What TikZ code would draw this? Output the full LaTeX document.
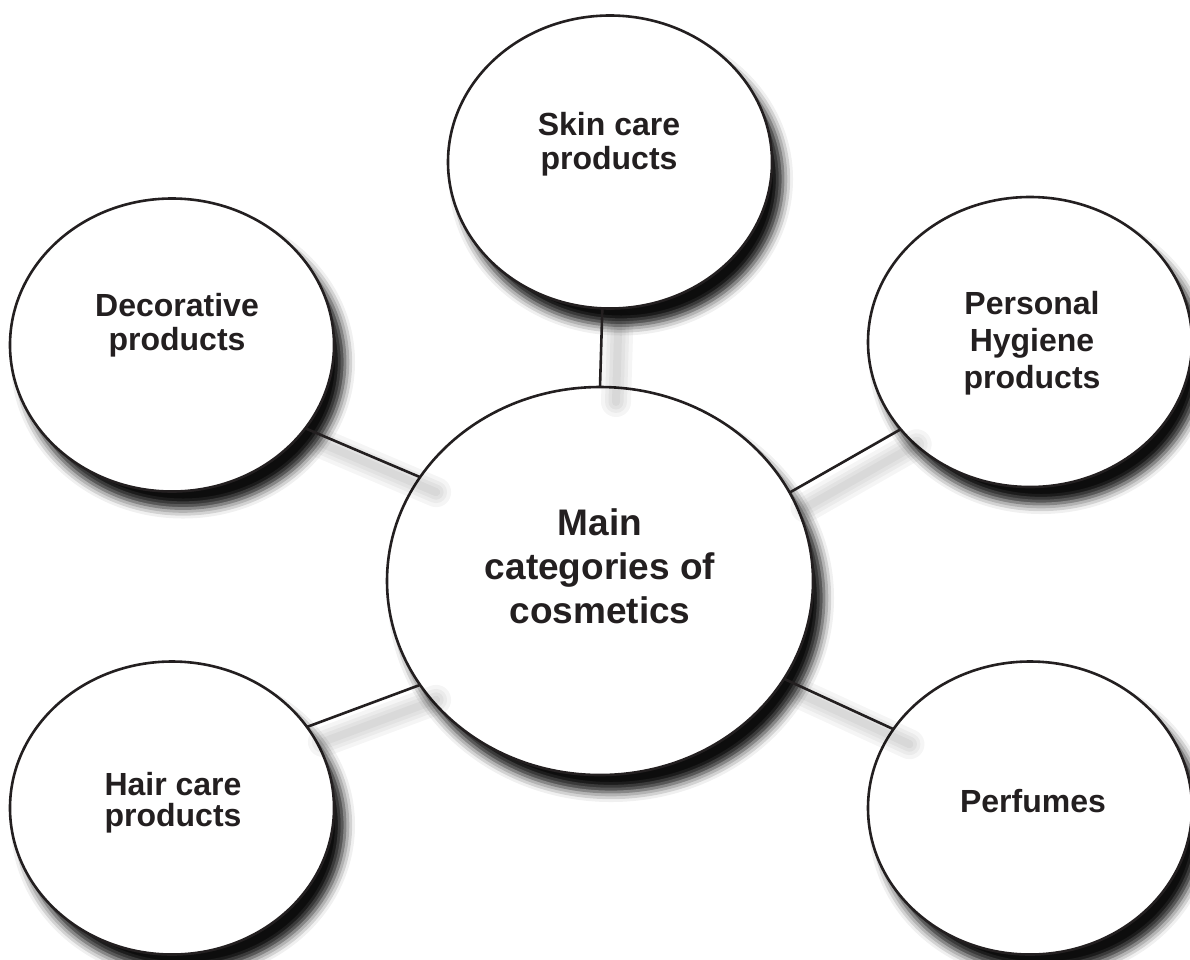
\documentclass[tikz,border=0pt]{standalone}
\usepackage{fontspec}
\setmainfont{Liberation Sans}
\usetikzlibrary{shapes.geometric,shadows.blur}
\definecolor{ink}{HTML}{231F20}
\begin{document}
\begin{tikzpicture}[x=1pt,y=-1pt,
  bubble/.style={ellipse, draw=ink, line width=2.6pt, fill=white, inner sep=0pt, outer sep=0pt,
    minimum width=324pt, minimum height=293pt,
    blur shadow={shadow xshift=11pt, shadow yshift=-17pt, shadow blur radius=10pt, shadow opacity=95}},
  lbl/.style={align=center, text=ink, inner sep=0pt, font=\bfseries\fontsize{32}{34}\selectfont},
  link/.style={draw=ink, line width=2.6pt},
  lshadow/.style={draw=black, draw opacity=0.038, line cap=round,
    transform canvas={shift={(16pt,-15pt)}}}
]
\useasboundingbox (0,0) rectangle (1190,959);
% bubbles
\node[bubble] (skin) at (610,162) {};
\node[bubble] (dec)  at (172,345) {};
\node[bubble, minimum height=290pt] (hyg)  at (1030,342) {};
\node[bubble] (hair) at (172,808) {};
\node[bubble] (perf) at (1030,808) {};
\node[bubble, minimum width=426pt, minimum height=388pt] (core) at (600,581) {};
% connector shadows
\foreach \a/\b in {skin.-93/core.90, dec.-32.6/core.150.7, hyg.214.7/core.25.3, hair.31.6/core.210.1, perf.150.3/core.-28.2}{
  \foreach \w in {30,22,15,8}{
    \draw[lshadow, line width=\w pt] (\a) -- (\b);
  }
}
% connectors
\draw[link] (skin.-93) -- (core.90);
\draw[link] (dec.-32.6) -- (core.150.7);
\draw[link] (hyg.214.7) -- (core.25.3);
\draw[link] (hair.31.6) -- (core.210.1);
\draw[link] (perf.150.3) -- (core.-28.2);
% labels
\node[lbl] (skinT) at (609,144) {Skin care\\products};
\node[lbl, font=\bfseries\fontsize{32}{34}\selectfont] (decT) at (177,325) {Decorative\\products};
\node[lbl, font=\bfseries\fontsize{32}{37}\selectfont] (hygT) at (1032,343) {Personal\\Hygiene\\products};
\node[lbl, font=\bfseries\fontsize{32}{31}\selectfont] (hairT) at (173,803) {Hair care\\products};
\node[lbl] (perfT) at (1033,801) {Perfumes};
\node[lbl, font=\bfseries\fontsize{37}{44}\selectfont] (coreT) at (600,566) {Main\\categories of\\cosmetics};
\end{tikzpicture}
\end{document}
